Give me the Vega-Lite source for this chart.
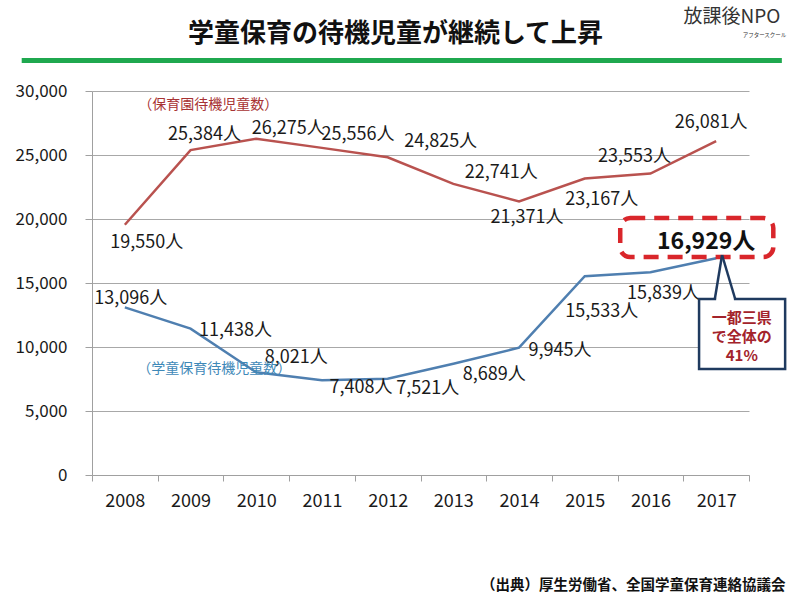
{
  "$schema": "https://vega.github.io/schema/vega-lite/v6.json",
  "width": 657,
  "height": 384,
  "autosize": "none",
  "padding": {"left": 92, "top": 91, "right": 51, "bottom": 125},
  "background": "white",
  "config": {
    "view": {"stroke": null},
    "font": "Noto Sans CJK JP",
    "text": {"font": "Noto Sans CJK JP", "fontSize": 18, "color": "#1a1a1a"}
  },
  "datasets": {
    "pts": [
      {"year": 2008, "s": "r", "value": 19550},
      {"year": 2009, "s": "r", "value": 25384},
      {"year": 2010, "s": "r", "value": 26275},
      {"year": 2011, "s": "r", "value": 25556},
      {"year": 2012, "s": "r", "value": 24825},
      {"year": 2013, "s": "r", "value": 22741},
      {"year": 2014, "s": "r", "value": 21371},
      {"year": 2015, "s": "r", "value": 23167},
      {"year": 2016, "s": "r", "value": 23553},
      {"year": 2017, "s": "r", "value": 26081},
      {"year": 2008, "s": "b", "value": 13096},
      {"year": 2009, "s": "b", "value": 11438},
      {"year": 2010, "s": "b", "value": 8021},
      {"year": 2011, "s": "b", "value": 7408},
      {"year": 2012, "s": "b", "value": 7521},
      {"year": 2013, "s": "b", "value": 8689},
      {"year": 2014, "s": "b", "value": 9945},
      {"year": 2015, "s": "b", "value": 15533},
      {"year": 2016, "s": "b", "value": 15839},
      {"year": 2017, "s": "b", "value": 16929}
    ],
    "one": [{"k": 1}]
  },
  "resolve": {"axis": {"x": "independent", "y": "independent"}},
  "layer": [
    {
      "data": {"name": "pts"},
      "transform": [{"calculate": "format(datum.value, ',') + '人'", "as": "label"}],
      "encoding": {
        "x": {"field": "year", "type": "quantitative", "scale": {"domain": [2007.5, 2017.5], "nice": false, "zero": false}, "axis": null},
        "y": {"field": "value", "type": "quantitative", "scale": {"domain": [0, 30000], "nice": false}, "axis": null}
      },
      "resolve": {"axis": {"x": "independent", "y": "independent"}},
      "layer": [
        {
          "transform": [{"filter": "datum.s == 'r'"}],
          "mark": {"type": "line", "color": "#b9524f", "strokeWidth": 2.5},
          "encoding": {
            "x": {"field": "year", "type": "quantitative",
              "axis": {
                "orient": "bottom",
                "values": [2007.5, 2008.5, 2009.5, 2010.5, 2011.5, 2012.5, 2013.5, 2014.5, 2015.5, 2016.5, 2017.5],
                "labelExpr": "datum.value < 2017 ? '' + (datum.value + 0.5) : ''",
                "labelOffset": 32.85,
                "labelFlush": false,
                "labelOverlap": false,
                "labelFontSize": 18,
                "labelColor": "#1a1a1a",
                "labelFont": "Noto Sans CJK JP",
                "labelPadding": 11,
                "tickSize": 6,
                "tickColor": "#a0a0a0",
                "domainColor": "#a0a0a0",
                "grid": false,
                "title": "（出典）厚生労働省、全国学童保育連絡協議会",
                "titleX": 693,
                "titleY": 110,
                "titleAlign": "right",
                "titleBaseline": "middle",
                "titleAngle": 0,
                "titleFontSize": 14.5,
                "titleFontWeight": "bold",
                "titleColor": "#111111",
                "titleFont": "Noto Sans CJK JP"
              }},
            "y": {"field": "value", "type": "quantitative",
              "axis": {
                "orient": "left",
                "values": [0, 5000, 10000, 15000, 20000, 25000, 30000],
                "format": ",d",
                "grid": true,
                "gridColor": "#a8a8a8",
                "gridWidth": 1,
                "domainColor": "#a0a0a0",
                "tickColor": "#a0a0a0",
                "tickSize": 7,
                "labelPadding": 18,
                "labelFontSize": 17,
                "labelColor": "#1a1a1a",
                "labelFont": "Noto Sans CJK JP",
                "title": "学童保育の待機児童が継続して上昇",
                "titleAngle": 0,
                "titleX": 303,
                "titleY": -58,
                "titleAlign": "center",
                "titleBaseline": "middle",
                "titleFontSize": 26,
                "titleFontWeight": "bold",
                "titleColor": "#111111",
                "titleFont": "Noto Sans CJK JP"
              }}
          }
        },
        {
          "transform": [{"filter": "datum.s == 'b'"}],
          "mark": {"type": "line", "color": "#4f7fb0", "strokeWidth": 2.5},
          "encoding": {
            "x": {"field": "year", "type": "quantitative",
              "axis": {
                "orient": "top", "domain": false, "ticks": false, "labels": false, "grid": false,
                "title": "アフタースクール", "titleX": 672, "titleY": -57, "titleAlign": "center",
                "titleBaseline": "middle", "titleFontSize": 5.5, "titleFontWeight": "normal", "titleColor": "#333333", "titleFont": "Noto Sans CJK JP"
              }},
            "y": {"field": "value", "type": "quantitative",
              "axis": {
                "orient": "right", "domain": false, "ticks": false, "labels": false, "grid": false,
                "title": "放課後NPO", "titleAngle": 0, "titleX": -66, "titleY": -75, "titleAlign": "left",
                "titleBaseline": "middle", "titleFontSize": 19, "titleFontWeight": "normal", "titleColor": "#333333", "titleFont": "Noto Sans CJK JP"
              }}
          }
        },
        {"transform": [{"filter": "datum.s == 'r' && datum.year == 2008"}], "mark": {"type": "text", "dx": 22, "dy": 18}, "encoding": {"text": {"field": "label"}}},
        {"transform": [{"filter": "datum.s == 'r' && datum.year == 2009"}], "mark": {"type": "text", "dx": 14, "dy": -15}, "encoding": {"text": {"field": "label"}}},
        {"transform": [{"filter": "datum.s == 'r' && datum.year == 2010"}], "mark": {"type": "text", "dx": 32, "dy": -10}, "encoding": {"text": {"field": "label"}}},
        {"transform": [{"filter": "datum.s == 'r' && datum.year == 2011"}], "mark": {"type": "text", "dx": 36, "dy": -13}, "encoding": {"text": {"field": "label"}}},
        {"transform": [{"filter": "datum.s == 'r' && datum.year == 2012"}], "mark": {"type": "text", "dx": 53, "dy": -15}, "encoding": {"text": {"field": "label"}}},
        {"transform": [{"filter": "datum.s == 'r' && datum.year == 2013"}], "mark": {"type": "text", "dx": 48, "dy": -11}, "encoding": {"text": {"field": "label"}}},
        {"transform": [{"filter": "datum.s == 'r' && datum.year == 2014"}], "mark": {"type": "text", "dx": 8, "dy": 17}, "encoding": {"text": {"field": "label"}}},
        {"transform": [{"filter": "datum.s == 'r' && datum.year == 2015"}], "mark": {"type": "text", "dx": 17, "dy": 22}, "encoding": {"text": {"field": "label"}}},
        {"transform": [{"filter": "datum.s == 'r' && datum.year == 2016"}], "mark": {"type": "text", "dx": -16, "dy": -17}, "encoding": {"text": {"field": "label"}}},
        {"transform": [{"filter": "datum.s == 'r' && datum.year == 2017"}], "mark": {"type": "text", "dx": -5, "dy": -18}, "encoding": {"text": {"field": "label"}}},
        {"transform": [{"filter": "datum.s == 'b' && datum.year == 2008"}], "mark": {"type": "text", "dx": 6, "dy": -8}, "encoding": {"text": {"field": "label"}}},
        {"transform": [{"filter": "datum.s == 'b' && datum.year == 2009"}], "mark": {"type": "text", "dx": 45, "dy": 2}, "encoding": {"text": {"field": "label"}}},
        {"transform": [{"filter": "datum.s == 'b' && datum.year == 2010"}], "mark": {"type": "text", "dx": 40, "dy": -14}, "encoding": {"text": {"field": "label"}}},
        {"transform": [{"filter": "datum.s == 'b' && datum.year == 2011"}], "mark": {"type": "text", "dx": 39, "dy": 8}, "encoding": {"text": {"field": "label"}}},
        {"transform": [{"filter": "datum.s == 'b' && datum.year == 2012"}], "mark": {"type": "text", "dx": 40, "dy": 10}, "encoding": {"text": {"field": "label"}}},
        {"transform": [{"filter": "datum.s == 'b' && datum.year == 2013"}], "mark": {"type": "text", "dx": 41, "dy": 11}, "encoding": {"text": {"field": "label"}}},
        {"transform": [{"filter": "datum.s == 'b' && datum.year == 2014"}], "mark": {"type": "text", "dx": 41, "dy": 3}, "encoding": {"text": {"field": "label"}}},
        {"transform": [{"filter": "datum.s == 'b' && datum.year == 2015"}], "mark": {"type": "text", "dx": 17, "dy": 36}, "encoding": {"text": {"field": "label"}}},
        {"transform": [{"filter": "datum.s == 'b' && datum.year == 2016"}], "mark": {"type": "text", "dx": 13, "dy": 22}, "encoding": {"text": {"field": "label"}}}
      ]
    },
    {
      "data": {"name": "one"},
      "mark": {"type": "rule", "color": "#1fa84f", "strokeWidth": 5},
      "encoding": {"x": {"datum": 2006.43, "type": "quantitative", "axis": null}, "x2": {"datum": 2018.0}, "y": {"datum": 32383, "type": "quantitative", "axis": null}}
    },
    {
      "data": {"name": "one"},
      "mark": {"type": "rect", "fillOpacity": 0, "stroke": "#d9262b", "strokeWidth": 4.5, "strokeDash": [15, 9], "cornerRadius": 10},
      "encoding": {"x": {"datum": 2015.54, "type": "quantitative", "axis": null}, "x2": {"datum": 2017.87}, "y": {"datum": 20078, "type": "quantitative", "axis": null}, "y2": {"datum": 17031}}
    },
    {
      "data": {"name": "one"},
      "mark": {"type": "rect", "fill": "white", "stroke": "#1f3a5f", "strokeWidth": 2.5},
      "encoding": {"x": {"datum": 2016.74, "type": "quantitative", "axis": null}, "x2": {"datum": 2018.05}, "y": {"datum": 13750, "type": "quantitative", "axis": null}, "y2": {"datum": 8281}}
    },
    {
      "data": {"name": "one"},
      "mark": {"type": "rule", "color": "white", "strokeWidth": 4},
      "encoding": {"x": {"datum": 2017.0, "type": "quantitative", "axis": null}, "x2": {"datum": 2017.27}, "y": {"datum": 13750, "type": "quantitative", "axis": null}}
    },
    {
      "data": {"name": "one"},
      "mark": {"type": "rule", "color": "#1f3a5f", "strokeWidth": 2.5},
      "encoding": {"x": {"datum": 2016.98, "type": "quantitative", "axis": null}, "y": {"datum": 13750, "type": "quantitative", "axis": null}, "x2": {"datum": 2017.09}, "y2": {"datum": 17188}}
    },
    {
      "data": {"name": "one"},
      "mark": {"type": "rule", "color": "#1f3a5f", "strokeWidth": 2.5},
      "encoding": {"x": {"datum": 2017.29, "type": "quantitative", "axis": null}, "y": {"datum": 13750, "type": "quantitative", "axis": null}, "x2": {"datum": 2017.09}, "y2": {"datum": 17188}}
    },
    {
      "data": {"name": "one"},
      "mark": {"type": "text", "fontSize": 15, "fontWeight": "bold", "color": "#a3232b", "lineHeight": 19, "align": "center", "baseline": "middle"},
      "encoding": {"x": {"datum": 2017.39, "type": "quantitative", "axis": null}, "y": {"datum": 12266, "type": "quantitative", "axis": null}, "text": {"value": ["一都三県", "で全体の", "41%"]}}
    },
    {
      "data": {"name": "one"},
      "mark": {"type": "text", "fontSize": 14, "color": "#a83232"},
      "encoding": {"x": {"datum": 2009.27, "type": "quantitative", "axis": null}, "y": {"datum": 28906, "type": "quantitative", "axis": null}, "text": {"value": "（保育園待機児童数）"}}
    },
    {
      "data": {"name": "one"},
      "mark": {"type": "text", "fontSize": 14, "color": "#3f89b8"},
      "encoding": {"x": {"datum": 2009.36, "type": "quantitative", "axis": null}, "y": {"datum": 8281, "type": "quantitative", "axis": null}, "text": {"value": "（学童保育待機児童数）"}}
    },
    {
      "data": {"name": "pts"},
      "transform": [{"filter": "datum.s == 'b' && datum.year == 2017"}, {"calculate": "format(datum.value, ',') + '人'", "as": "label"}],
      "mark": {"type": "text", "dx": -10, "dy": -16, "fontSize": 23, "fontWeight": "bold", "color": "#111111"},
      "encoding": {
        "x": {"field": "year", "type": "quantitative", "axis": null},
        "y": {"field": "value", "type": "quantitative", "axis": null},
        "text": {"field": "label"}
      }
    }
  ]
}
